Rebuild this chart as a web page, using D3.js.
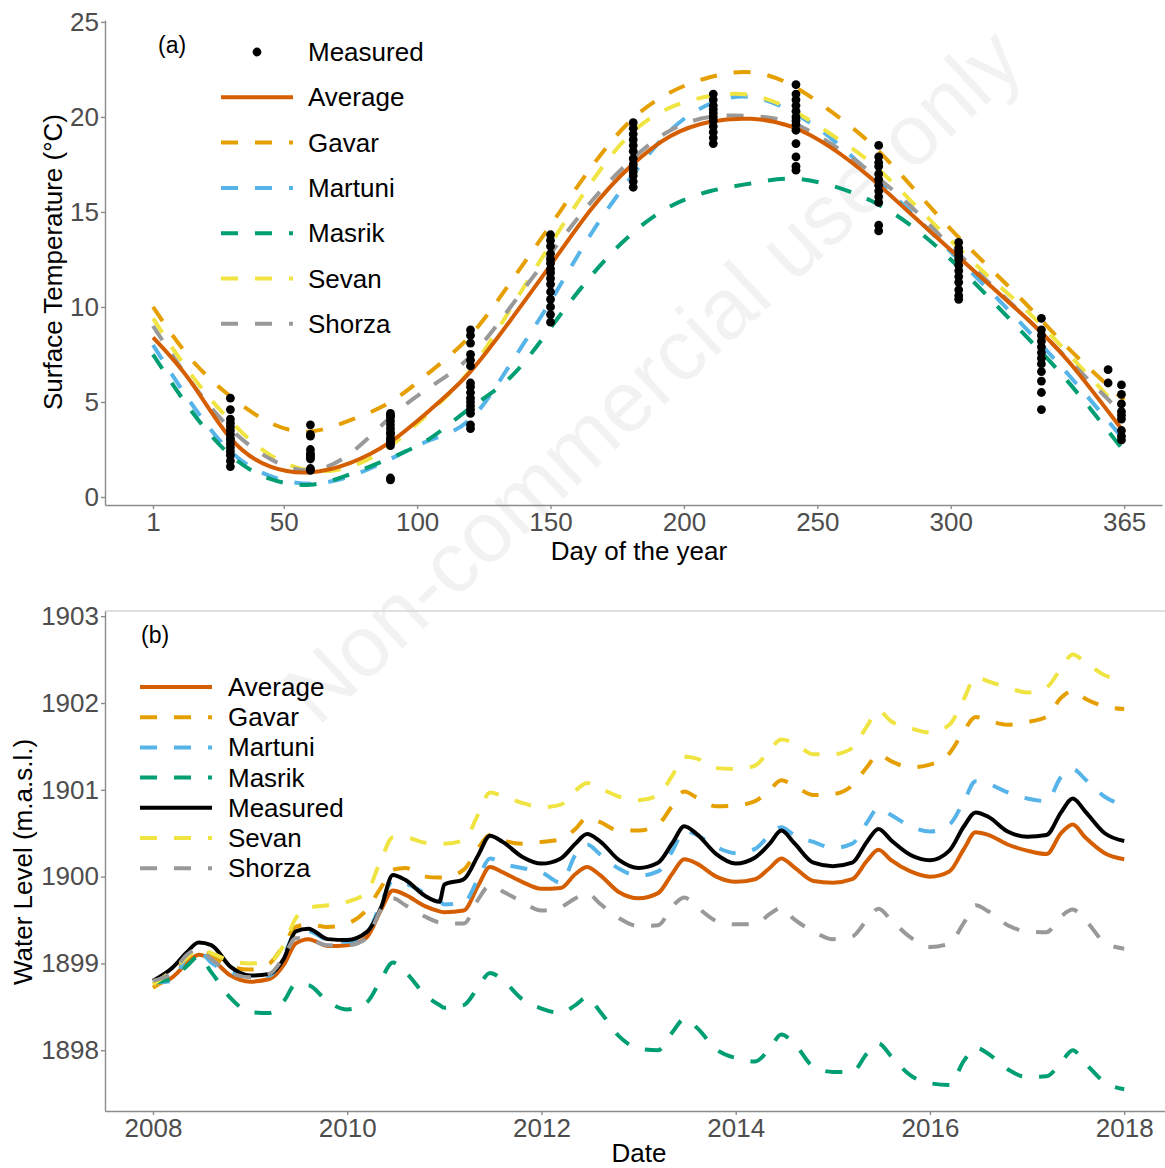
<!DOCTYPE html>
<html>
<head>
<meta charset="utf-8">
<script src="https://cdn.jsdelivr.net/npm/d3@7"></script>
<style>
  body { margin: 0; background: #fff; }
  svg { display: block; }
  text { font-family: "Liberation Sans", Arial, sans-serif; }
</style>
</head>
<body>
<svg id="chart"></svg>
<script>
const width = 1165, height = 1168;

// ---- panel (a): surface temperature by day of year ----
const dayTicks = [1, 50, 100, 150, 200, 250, 300, 365];
const tempTicks = [0, 5, 10, 15, 20, 25];
const days = [1, 15, 30, 45, 60, 75, 90, 105, 120, 135, 150, 165, 180, 195, 210, 225, 240, 255, 270, 285, 300, 315, 330, 345, 365];
const tempAverage = [8.4, 6.1, 3.1, 1.6, 1.3, 1.8, 2.9, 4.6, 6.6, 9.3, 12.2, 15.1, 17.4, 19.0, 19.75, 19.9, 19.5, 18.4, 16.8, 14.9, 13.0, 11.1, 9.2, 7.0, 3.4];
const tempGavar   = [10.0, 7.3, 5.3, 3.9, 3.45, 4.05, 5.0, 6.6, 8.5, 11.3, 14.3, 17.3, 19.8, 21.3, 22.1, 22.35, 21.7, 20.3, 18.6, 16.4, 14.1, 12.0, 9.9, 7.7, 5.1];
const tempMartuni = [8.0, 5.0, 2.4, 1.1, 0.7, 1.1, 2.0, 3.0, 4.1, 7.0, 10.3, 13.8, 16.8, 19.3, 20.7, 21.05, 20.3, 18.9, 17.0, 15.0, 12.9, 10.8, 8.6, 6.3, 3.0];
const tempMasrik  = [7.5, 4.6, 2.2, 0.95, 0.65, 1.2, 2.05, 3.1, 4.7, 6.3, 8.9, 11.6, 13.8, 15.3, 16.1, 16.5, 16.75, 16.4, 15.6, 14.3, 12.5, 10.4, 8.2, 5.9, 2.4];
const tempSevan   = [9.4, 6.5, 4.0, 2.2, 1.4, 1.6, 2.7, 4.5, 6.7, 9.9, 13.3, 16.5, 19.1, 20.5, 21.1, 21.15, 20.4, 19.1, 17.6, 15.6, 13.5, 11.5, 9.6, 7.4, 4.4];
const tempShorza  = [9.0, 6.1, 3.6, 2.0, 1.4, 2.3, 4.2, 5.8, 7.4, 10.0, 12.8, 15.5, 17.7, 19.3, 20.0, 20.05, 19.7, 18.6, 17.1, 15.3, 13.2, 11.2, 9.2, 7.1, 4.3];

const sampleDays = [30, 60, 90, 120, 150, 181, 211, 242, 273, 303, 334, 359, 364];
const sampleTemps = [
  [5.2, 4.6, 4.1, 3.9, 3.7, 3.5, 3.3, 3.1, 3.0, 2.8, 2.6, 2.4, 2.2, 1.9, 1.6],
  [3.8, 3.3, 3.2, 2.5, 2.3, 2.2, 2.1, 2.0, 1.5, 1.4],
  [4.4, 4.3, 4.2, 4.0, 3.8, 3.6, 3.4, 3.3, 3.1, 3.0, 2.9, 2.8, 2.7, 1.0, 0.9],
  [8.8, 8.5, 8.1, 7.5, 7.2, 6.9, 6.0, 5.8, 5.5, 5.2, 5.0, 4.8, 4.6, 4.4, 3.8, 3.6],
  [13.8, 13.5, 13.2, 12.8, 12.5, 12.3, 12.0, 11.8, 11.5, 11.2, 10.8, 10.4, 10.0, 9.6, 9.2],
  [19.7, 19.4, 19.1, 18.8, 18.5, 18.2, 17.8, 17.5, 17.3, 17.1, 16.9, 16.6, 16.3],
  [21.2, 20.9, 20.6, 20.4, 20.2, 20.0, 19.8, 19.5, 19.2, 18.9, 18.6],
  [21.7, 21.2, 20.9, 20.6, 20.3, 20.0, 19.8, 19.6, 19.3, 18.6, 17.9, 17.4, 17.2],
  [18.5, 17.9, 17.6, 17.4, 17.0, 16.7, 16.4, 16.1, 15.8, 15.5, 14.3, 14.0],
  [13.4, 13.1, 12.9, 12.7, 12.5, 12.2, 11.9, 11.6, 11.3, 10.9, 10.6, 10.4],
  [9.4, 8.8, 8.5, 8.2, 7.9, 7.6, 7.3, 7.0, 6.6, 6.1, 5.5, 4.6],
  [6.7, 6.0],
  [5.9, 5.4, 4.9, 4.5, 4.3, 4.1, 3.5, 3.2, 3.0]
];

// ---- panel (b): water level by date ----
const yearTicks = [2008, 2010, 2012, 2014, 2016, 2018];
const levelTicks = [1898, 1899, 1900, 1901, 1902, 1903];
const dates = [
  2008, 2008.2, 2008.35, 2008.47, 2008.6, 2008.8,
  2009, 2009.2, 2009.35, 2009.47, 2009.6, 2009.8,
  2010, 2010.2, 2010.35, 2010.47, 2010.6, 2010.8, 2010.95,
  2011, 2011.2, 2011.35, 2011.47, 2011.6, 2011.8,
  2012, 2012.2, 2012.35, 2012.47, 2012.6, 2012.8,
  2013, 2013.2, 2013.35, 2013.47, 2013.6, 2013.8,
  2014, 2014.2, 2014.35, 2014.47, 2014.6, 2014.8,
  2015, 2015.2, 2015.35, 2015.47, 2015.6, 2015.8,
  2016, 2016.2, 2016.35, 2016.47, 2016.6, 2016.8,
  2017, 2017.2, 2017.35, 2017.47, 2017.6, 2017.8,
  2018
];
const levelAverage = [
  1898.75, 1898.84, 1899.00, 1899.10, 1899.05, 1898.86,
  1898.79, 1898.82, 1898.99, 1899.23, 1899.28, 1899.20,
  1899.21, 1899.30, 1899.62, 1899.84, 1899.79, 1899.66, 1899.60,
  1899.59, 1899.61, 1899.90, 1900.11, 1900.05, 1899.94,
  1899.86, 1899.87, 1900.03, 1900.11, 1900.02, 1899.82,
  1899.75, 1899.81, 1900.04, 1900.20, 1900.15, 1900.00,
  1899.94, 1899.97, 1900.10, 1900.21, 1900.11, 1899.95,
  1899.93, 1899.97, 1900.18, 1900.31, 1900.19, 1900.06,
  1900.00, 1900.06, 1900.32, 1900.51, 1900.48, 1900.37,
  1900.30, 1900.26, 1900.50, 1900.60, 1900.45, 1900.27,
  1900.20
];
const levelGavar = [
  1898.72, 1898.88, 1899.05, 1899.15, 1899.10, 1898.96,
  1898.93, 1899.00, 1899.22, 1899.42, 1899.45, 1899.42,
  1899.46, 1899.62, 1899.88, 1900.08, 1900.10, 1900.00, 1899.99,
  1899.99, 1900.08, 1900.33, 1900.48, 1900.42, 1900.38,
  1900.40, 1900.43, 1900.55, 1900.68, 1900.63, 1900.53,
  1900.53, 1900.60, 1900.82, 1900.98, 1900.91, 1900.81,
  1900.82, 1900.87, 1901.00, 1901.11, 1901.05, 1900.94,
  1900.95, 1901.05, 1901.26, 1901.41, 1901.33, 1901.26,
  1901.29, 1901.42, 1901.68, 1901.84, 1901.80, 1901.75,
  1901.78, 1901.84, 1902.06, 1902.14, 1902.05, 1901.96,
  1901.93
];
const levelMartuni = [
  1898.78, 1898.80, 1899.08, 1899.14, 1899.01, 1898.90,
  1898.85, 1898.86, 1899.10, 1899.35, 1899.37, 1899.27,
  1899.25, 1899.34, 1899.70, 1899.95, 1899.92, 1899.81, 1899.72,
  1899.68, 1899.70, 1899.98, 1900.21, 1900.15, 1900.10,
  1900.05, 1899.93, 1900.25, 1900.37, 1900.26, 1900.09,
  1900.01, 1900.06, 1900.30, 1900.53, 1900.48, 1900.34,
  1900.27, 1900.32, 1900.48, 1900.57, 1900.48, 1900.40,
  1900.33, 1900.38, 1900.62, 1900.79, 1900.71, 1900.58,
  1900.52, 1900.60, 1900.87, 1901.10, 1901.07, 1900.97,
  1900.90, 1900.87, 1901.15, 1901.24, 1901.12, 1900.92,
  1900.82
];
const levelMasrik = [
  1898.78, 1898.83, 1898.97, 1899.08, 1898.90, 1898.60,
  1898.44, 1898.43, 1898.57, 1898.76, 1898.75, 1898.56,
  1898.47, 1898.55, 1898.82, 1899.01, 1898.90, 1898.64, 1898.52,
  1898.49, 1898.52, 1898.73, 1898.89, 1898.81, 1898.59,
  1898.48, 1898.43, 1898.52, 1898.61, 1898.45, 1898.16,
  1898.02, 1898.00, 1898.21, 1898.36, 1898.26, 1898.01,
  1897.91, 1897.87, 1898.02, 1898.18, 1898.08, 1897.81,
  1897.75, 1897.75, 1897.96, 1898.08, 1897.93, 1897.71,
  1897.62, 1897.60, 1897.88, 1898.03, 1897.96, 1897.78,
  1897.69, 1897.70, 1897.86, 1898.00, 1897.85, 1897.63,
  1897.55
];
const levelMeasured = [
  1898.80, 1898.95, 1899.13, 1899.24, 1899.21, 1898.96,
  1898.86, 1898.88, 1899.06, 1899.37, 1899.40, 1899.28,
  1899.27, 1899.36, 1899.65, 1900.02, 1899.96, 1899.78, 1899.71,
  1899.91, 1899.97, 1900.25, 1900.47, 1900.40, 1900.23,
  1900.15, 1900.21, 1900.38, 1900.49, 1900.41, 1900.19,
  1900.10, 1900.16, 1900.39, 1900.58, 1900.49, 1900.26,
  1900.15, 1900.22, 1900.38, 1900.53, 1900.39, 1900.16,
  1900.12, 1900.16, 1900.40, 1900.55, 1900.42, 1900.25,
  1900.19, 1900.30, 1900.58, 1900.74, 1900.69, 1900.52,
  1900.46, 1900.48, 1900.74, 1900.90, 1900.75, 1900.50,
  1900.41
];
const levelSevan = [
  1898.76, 1898.92, 1899.07, 1899.17, 1899.12, 1899.03,
  1899.00, 1899.02, 1899.22, 1899.52, 1899.64, 1899.67,
  1899.71, 1899.82, 1900.20, 1900.45, 1900.45, 1900.39, 1900.38,
  1900.38, 1900.42, 1900.72, 1900.97, 1900.93, 1900.85,
  1900.80, 1900.83, 1900.99, 1901.08, 1901.02, 1900.92,
  1900.88, 1900.94, 1901.17, 1901.38, 1901.36, 1901.25,
  1901.24, 1901.28, 1901.46, 1901.58, 1901.54, 1901.41,
  1901.41, 1901.48, 1901.73, 1901.91, 1901.79, 1901.71,
  1901.66, 1901.75, 1902.05, 1902.30, 1902.25, 1902.18,
  1902.12, 1902.18, 1902.40, 1902.56, 1902.47, 1902.32,
  1902.27
];
const levelShorza = [
  1898.80, 1898.90, 1899.10, 1899.17, 1899.05, 1898.89,
  1898.84, 1898.88, 1899.08, 1899.29, 1899.28, 1899.21,
  1899.21, 1899.29, 1899.63, 1899.75, 1899.67, 1899.54, 1899.47,
  1899.46, 1899.46, 1899.74, 1899.90, 1899.83, 1899.71,
  1899.61, 1899.65, 1899.75, 1899.81, 1899.69, 1899.52,
  1899.43, 1899.44, 1899.66, 1899.76, 1899.65, 1899.49,
  1899.45, 1899.45, 1899.57, 1899.64, 1899.51, 1899.37,
  1899.28, 1899.31, 1899.50, 1899.63, 1899.50, 1899.30,
  1899.19, 1899.23, 1899.47, 1899.67, 1899.60, 1899.44,
  1899.37, 1899.36, 1899.54, 1899.62, 1899.50, 1899.24,
  1899.17
];

const colors = {
  Average: "#D55E00", Gavar: "#E69F00", Martuni: "#56B4E9", Masrik: "#009E73",
  Sevan: "#F0E442", Shorza: "#999999", Measured: "#000000"
};
const dash = "17 17";

const tempSeries = [
  { name: "Gavar", values: tempGavar, dashed: true },
  { name: "Martuni", values: tempMartuni, dashed: true },
  { name: "Masrik", values: tempMasrik, dashed: true },
  { name: "Sevan", values: tempSevan, dashed: true },
  { name: "Shorza", values: tempShorza, dashed: true },
  { name: "Average", values: tempAverage, dashed: false }
];
const levelSeries = [
  { name: "Average", values: levelAverage, dashed: false },
  { name: "Gavar", values: levelGavar, dashed: true },
  { name: "Martuni", values: levelMartuni, dashed: true },
  { name: "Masrik", values: levelMasrik, dashed: true },
  { name: "Measured", values: levelMeasured, dashed: false },
  { name: "Sevan", values: levelSevan, dashed: true },
  { name: "Shorza", values: levelShorza, dashed: true }
];

const svg = d3.select("#chart").attr("width", width).attr("height", height);
svg.append("rect").attr("width", width).attr("height", height).attr("fill", "#fff");

// watermark, behind everything
svg.append("text")
  .attr("transform", "translate(652,375) rotate(-43)")
  .attr("text-anchor", "middle")
  .attr("dominant-baseline", "central")
  .style("font-size", "86px")
  .attr("fill", "#000")
  .attr("fill-opacity", 0.05)
  .text("Non-commercial use only");

function styleAxis(g) {
  g.attr("font-family", null).attr("font-size", null);
  g.select(".domain").attr("stroke", "#8c8c8c").attr("stroke-width", 1.4);
  g.selectAll(".tick line").attr("stroke", "#8c8c8c").attr("stroke-width", 1.4);
  g.selectAll(".tick text").attr("fill", "#4d4d4d").style("font-size", "26px");
}

// ---------- panel (a) ----------
const xDay = d3.scaleLinear().domain([-17, 379.2]).range([105, 1162]);
const yTemp = d3.scaleLinear().domain([-0.42, 25.1]).range([505, 20]);

const gA = svg.append("g");

gA.append("g").attr("transform", "translate(0,505)")
  .call(d3.axisBottom(xDay).tickValues(dayTicks).tickSize(4).tickSizeOuter(0).tickPadding(4))
  .call(styleAxis);
gA.append("g").attr("transform", "translate(105,0)")
  .call(d3.axisLeft(yTemp).tickValues(tempTicks).tickSize(4).tickSizeOuter(0).tickPadding(2))
  .call(styleAxis);

const tempLine = d3.line()
  .x((d, i) => xDay(days[i]))
  .y(d => yTemp(d))
  .curve(d3.curveNatural);

gA.selectAll(".temp-line")
  .data(tempSeries)
  .enter()
  .append("path")
  .attr("class", "temp-line")
  .attr("d", d => tempLine(d.values))
  .attr("fill", "none")
  .attr("stroke", d => colors[d.name])
  .attr("stroke-width", 4)
  .attr("stroke-dasharray", d => d.dashed ? dash : null);

const samplePoints = [];
sampleDays.forEach((day, i) => {
  sampleTemps[i].forEach(t => samplePoints.push({ day: day, temp: t }));
});
gA.selectAll("circle")
  .data(samplePoints)
  .enter()
  .append("circle")
  .attr("cx", d => xDay(d.day))
  .attr("cy", d => yTemp(d.temp))
  .attr("r", 4.4)
  .attr("fill", "#000");

gA.append("text").attr("x", 158).attr("y", 45)
  .attr("dominant-baseline", "central").style("font-size", "23px").text("(a)");

// legend (a)
const legendA = ["Measured", "Average", "Gavar", "Martuni", "Masrik", "Sevan", "Shorza"];
legendA.forEach((name, i) => {
  const y = 52 + i * 45.3;
  if (name === "Measured") {
    gA.append("circle").attr("cx", 257).attr("cy", y).attr("r", 4.4).attr("fill", "#000");
  } else {
    gA.append("line").attr("x1", 221).attr("x2", 293).attr("y1", y).attr("y2", y)
      .attr("stroke", colors[name]).attr("stroke-width", 4)
      .attr("stroke-dasharray", name === "Average" ? null : dash);
  }
  gA.append("text").attr("x", 308).attr("y", y)
    .attr("dominant-baseline", "central").style("font-size", "26px").text(name);
});

gA.append("text").attr("x", 639).attr("y", 551)
  .attr("text-anchor", "middle").attr("dominant-baseline", "central")
  .style("font-size", "26px").text("Day of the year");
gA.append("text").attr("transform", "translate(53,262) rotate(-90)")
  .attr("text-anchor", "middle").attr("dominant-baseline", "central")
  .style("font-size", "26px").text("Surface Temperature (°C)");

// ---------- panel (b) ----------
const xYear = d3.scaleLinear().domain([2007.506, 2018.42]).range([105, 1165]);
const yLevel = d3.scaleLinear().domain([1897.3, 1903.06]).range([1111, 611]);

const gB = svg.append("g");

gB.append("line").attr("x1", 105).attr("x2", 1165).attr("y1", 611).attr("y2", 611)
  .attr("stroke", "#d6d6d6").attr("stroke-width", 1.4);

gB.append("g").attr("transform", "translate(0,1111)")
  .call(d3.axisBottom(xYear).tickValues(yearTicks).tickFormat(d3.format("d"))
    .tickSize(4).tickSizeOuter(0).tickPadding(4))
  .call(styleAxis);
gB.append("g").attr("transform", "translate(105,0)")
  .call(d3.axisLeft(yLevel).tickValues(levelTicks).tickFormat(d3.format("d"))
    .tickSize(4).tickSizeOuter(0).tickPadding(2))
  .call(styleAxis);

const levelLine = d3.line()
  .x((d, i) => xYear(dates[i]))
  .y(d => yLevel(d))
  .curve(d3.curveMonotoneX);

gB.selectAll(".level-line")
  .data(levelSeries)
  .enter()
  .append("path")
  .attr("class", "level-line")
  .attr("d", d => levelLine(d.values))
  .attr("fill", "none")
  .attr("stroke", d => colors[d.name])
  .attr("stroke-width", 4)
  .attr("stroke-linejoin", "round")
  .attr("stroke-dasharray", d => d.dashed ? dash : null);

gB.append("text").attr("x", 141).attr("y", 635)
  .attr("dominant-baseline", "central").style("font-size", "23px").text("(b)");

levelSeries.forEach((s, i) => {
  const y = 687 + i * 30.2;
  gB.append("line").attr("x1", 140).attr("x2", 212).attr("y1", y).attr("y2", y)
    .attr("stroke", colors[s.name]).attr("stroke-width", 4)
    .attr("stroke-dasharray", s.dashed ? dash : null);
  gB.append("text").attr("x", 228).attr("y", y)
    .attr("dominant-baseline", "central").style("font-size", "26px").text(s.name);
});

gB.append("text").attr("x", 639).attr("y", 1153)
  .attr("text-anchor", "middle").attr("dominant-baseline", "central")
  .style("font-size", "26px").text("Date");
gB.append("text").attr("transform", "translate(23,862) rotate(-90)")
  .attr("text-anchor", "middle").attr("dominant-baseline", "central")
  .style("font-size", "26px").text("Water Level (m.a.s.l.)");
</script>
</body>
</html>
